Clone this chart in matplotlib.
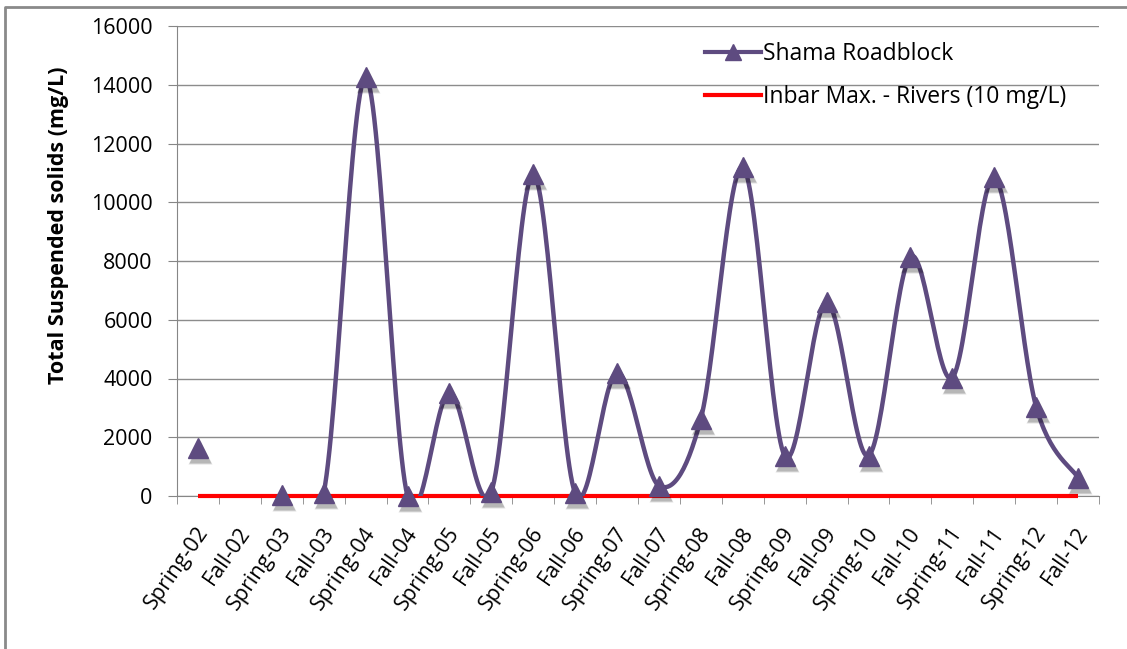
import numpy as np
import matplotlib.pyplot as plt
import matplotlib.transforms as mtransforms
from matplotlib.lines import Line2D

plt.rcParams['font.family'] = ['Open Sans', 'DejaVu Sans']

seasons = ['Spring-02', 'Fall-02', 'Spring-03', 'Fall-03', 'Spring-04', 'Fall-04',
           'Spring-05', 'Fall-05', 'Spring-06', 'Fall-06', 'Spring-07', 'Fall-07',
           'Spring-08', 'Fall-08', 'Spring-09', 'Fall-09', 'Spring-10', 'Fall-10',
           'Spring-11', 'Fall-11', 'Spring-12', 'Fall-12']
tss = [1650, np.nan, 50, 100, 14250, 0, 3520, 150, 10950, 100, 4200, 350,
       2630, 11200, 1370, 6600, 1370, 8150, 4030, 10850, 3040, 620]
inbar_max = 10

purple = '#5e4b80'

def smooth(xs, ys, n=30):
    # excel style smoothed line: bezier with control points from neighbours
    xs = np.asarray(xs, float); ys = np.asarray(ys, float)
    ox, oy = [], []
    for i in range(len(xs) - 1):
        p0 = np.array([xs[max(i-1, 0)], ys[max(i-1, 0)]])
        p1 = np.array([xs[i], ys[i]])
        p2 = np.array([xs[i+1], ys[i+1]])
        p3 = np.array([xs[min(i+2, len(xs)-1)], ys[min(i+2, len(xs)-1)]])
        c1 = p1 + (p2 - p0) / 6
        c2 = p2 - (p3 - p1) / 6
        t = np.linspace(0, 1, n)[:, None]
        b = (1-t)**3*p1 + 3*(1-t)**2*t*c1 + 3*(1-t)*t**2*c2 + t**3*p2
        ox.extend(b[:, 0]); oy.extend(b[:, 1])
    return ox, oy

fig = plt.figure(figsize=(11.27, 6.49), dpi=100)
ax = fig.add_axes([177/1127, 1-496/649, (1099-177)/1127, (496-26)/649])

x = np.arange(len(seasons))
y = np.array(tss, float)

# red limit line
ax.plot(x, np.full(len(x), inbar_max), color='#ff0000', lw=3, zorder=3,
        solid_capstyle='butt', clip_on=False)

# smoothed line over the continuous part (after the gap)
ok = ~np.isnan(y)
start = 2
sx, sy = smooth(x[start:], y[start:])
ax.plot(sx, sy, color=purple, lw=3.2, zorder=4)

# soft marker shadows
shadow = ax.transData + mtransforms.ScaledTranslation(2/100, -4/100, fig.dpi_scale_trans)
for a, m in [(0.12, 17), (0.18, 15.5)]:
    ax.plot(x[ok], y[ok], ls='none', marker='^', ms=m, color='black', alpha=a,
            mec='none', transform=shadow, zorder=4, clip_on=False)
ax.plot(x[ok], y[ok], ls='none', marker='^', ms=15, color=purple, mec=purple,
        zorder=5, clip_on=False)

ax.set_xlim(-0.5, len(seasons) - 0.5)
ax.set_ylim(0, 16000)
ax.set_yticks(np.arange(0, 16001, 2000))
ax.set_xticks(x)
ax.tick_params(axis='x', which='major', length=0, labelbottom=False)
# category labels, rotated
for i, s in enumerate(seasons):
    ax.annotate(s, xy=(i, 0), xycoords=ax.get_xaxis_transform(),
                xytext=(6, -33), textcoords='offset pixels',
                rotation=55, ha='right', va='center', rotation_mode='anchor',
                fontsize=15.5, annotation_clip=False)
ax.set_xticks(np.arange(-0.5, len(seasons)), minor=True)
ax.tick_params(axis='x', which='minor', length=6, color='#868686')
ax.tick_params(axis='y', length=6.5, color='#868686', labelsize=15.5, pad=11)
ax.grid(axis='y', color='#8c8c8c', lw=1)
ax.set_axisbelow(True)
for s in ['top', 'right']:
    ax.spines[s].set_visible(False)
for s in ['left', 'bottom']:
    ax.spines[s].set_color('#868686')
ax.set_ylabel('Total Suspended solids (mg/L)', fontsize=15.5, fontweight='bold',
              va='center')
ax.yaxis.set_label_coords((59-177)/922, (496-225)/470)

h1 = Line2D([], [], color=purple, lw=3, marker='^', ms=12)
h2 = Line2D([], [], color='#ff0000', lw=3)
ax.legend([h1, h2], ['Shama Roadblock', 'Inbar Max. - Rivers (10 mg/L)'],
          loc='upper left', bbox_to_anchor=(0.55, 1.01), frameon=False,
          fontsize=16.5, handlelength=2.45, handletextpad=0.1, labelspacing=0.85)

# outer chart frame
fig.add_artist(Line2D([5/1127, 5/1127, 1.0], [0.0, 1-7/649, 1-7/649],
                      transform=fig.transFigure, color='#8a8a8a', lw=2))

fig.savefig('out.png', dpi=100)
